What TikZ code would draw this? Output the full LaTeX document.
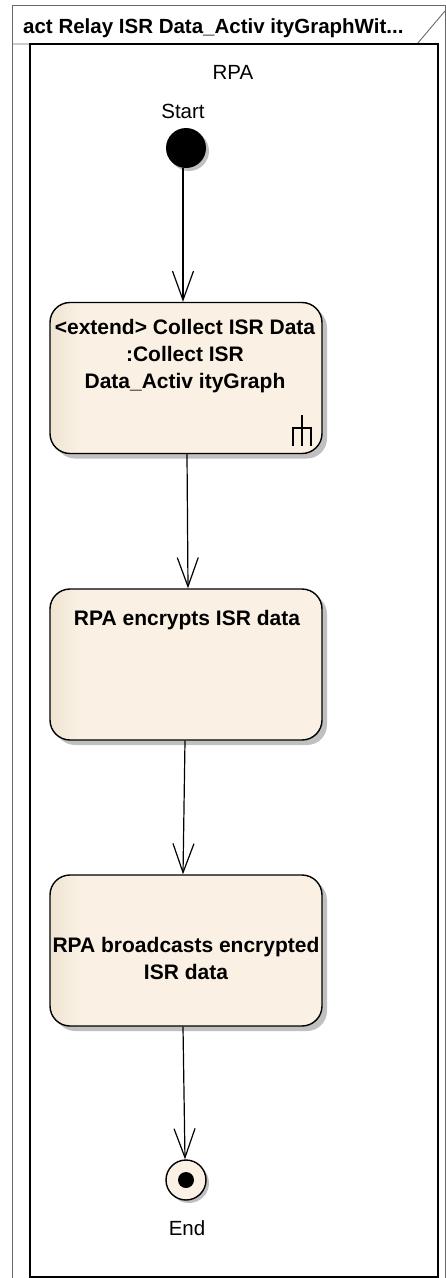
\documentclass[tikz,border=0pt]{standalone}
\usepackage{fontspec}
\setmainfont{Liberation Sans}
\usetikzlibrary{arrows.meta,shadows}
\definecolor{cream}{RGB}{250,241,228}
\definecolor{creamdark}{RGB}{240,228,210}
\definecolor{shadowgray}{RGB}{192,192,192}
\definecolor{framegray}{RGB}{105,105,105}
\pgfdeclarehorizontalshading{actshade}{100bp}{color(0bp)=(creamdark); color(25bp)=(creamdark); color(30.5bp)=(cream); color(100bp)=(cream)}
\begin{document}
\begin{tikzpicture}[x=1pt,y=-1pt,
  lbl/.style={font=\fontsize{20.5}{27}\selectfont, inner sep=0pt, align=center},
  lblb/.style={font=\bfseries\fontsize{21}{27}\selectfont, inner sep=0pt, align=center},
  shad/.style={drop shadow={shadow xshift=#1, shadow yshift=-#1, fill=shadowgray, opacity=1}},
  actbox/.style={draw, line width=1.4pt, rounded corners=20pt, minimum width=272pt, minimum height=151pt, inner sep=0pt, shading=actshade, shading angle=0, shad=5pt},
  flow/.style={line width=1.2pt, -{Straight Barb[length=29pt,width=21pt,line width=1.2pt]}},
  ]
\useasboundingbox (0,0) rectangle (446,1278);
% outer frame
\draw[framegray, line width=0.9pt] (12,1278) -- (12,5) -- (445,5) -- (445,1278);
\draw[framegray, line width=0.9pt] (12,44) -- (417,44) -- (445,11);
\node[anchor=base west, inner sep=0pt, font=\bfseries\fontsize{20.5}{24}\selectfont] (title) at (23,33) {act Relay ISR Data\_Activ ityGraphWit...};
% partition
\draw[line width=1.5pt] (30,44) rectangle (438,1277);
\node[lbl] (rpa) at (233,72) {RPA};
% start
\node[lbl] (startlbl) at (183,111) {Start};
\node[circle, fill=black, minimum size=40pt, inner sep=0pt, shad=3pt] (start) at (186,148) {};
% actions
\node[actbox] (n1) at (186,378) {};
\node[lblb] (t1) at (185,356) {<extend> Collect ISR Data\\:Collect ISR\\Data\_Activ ityGraph};
\draw[line width=1.2pt] (302,415) -- (302,446) (293,446) -- (293,428) -- (311,428) -- (311,446);
\node[actbox] (n2) at (186,664.5) {};
\node[lblb] (t2) at (187,620) {RPA encrypts ISR data};
\node[actbox] (n3) at (186,950.5) {};
\node[lblb] (t3) at (186,958) {RPA broadcasts encrypted\\ISR data};
% end
\node[circle, draw, line width=1.4pt, fill=cream, minimum size=40pt, inner sep=0pt, shad=3pt] (end) at (186,1180) {};
\node[circle, fill=black, minimum size=16pt, inner sep=0pt] (enddot) at (end.center) {};
\node[lbl] (endlbl) at (187,1228) {End};
% flows
\draw[flow] ([xshift=-3pt]start.south) -- ([xshift=-3pt]n1.north);
\draw[flow] ([xshift=1pt]n1.south) -- ([xshift=2pt]n2.north);
\draw[flow] ([xshift=-1pt]n2.south) -- ([xshift=-3pt]n3.north);
\draw[flow] ([xshift=-3pt]n3.south) -- ([xshift=-1pt]end.north);
\end{tikzpicture}
\end{document}
